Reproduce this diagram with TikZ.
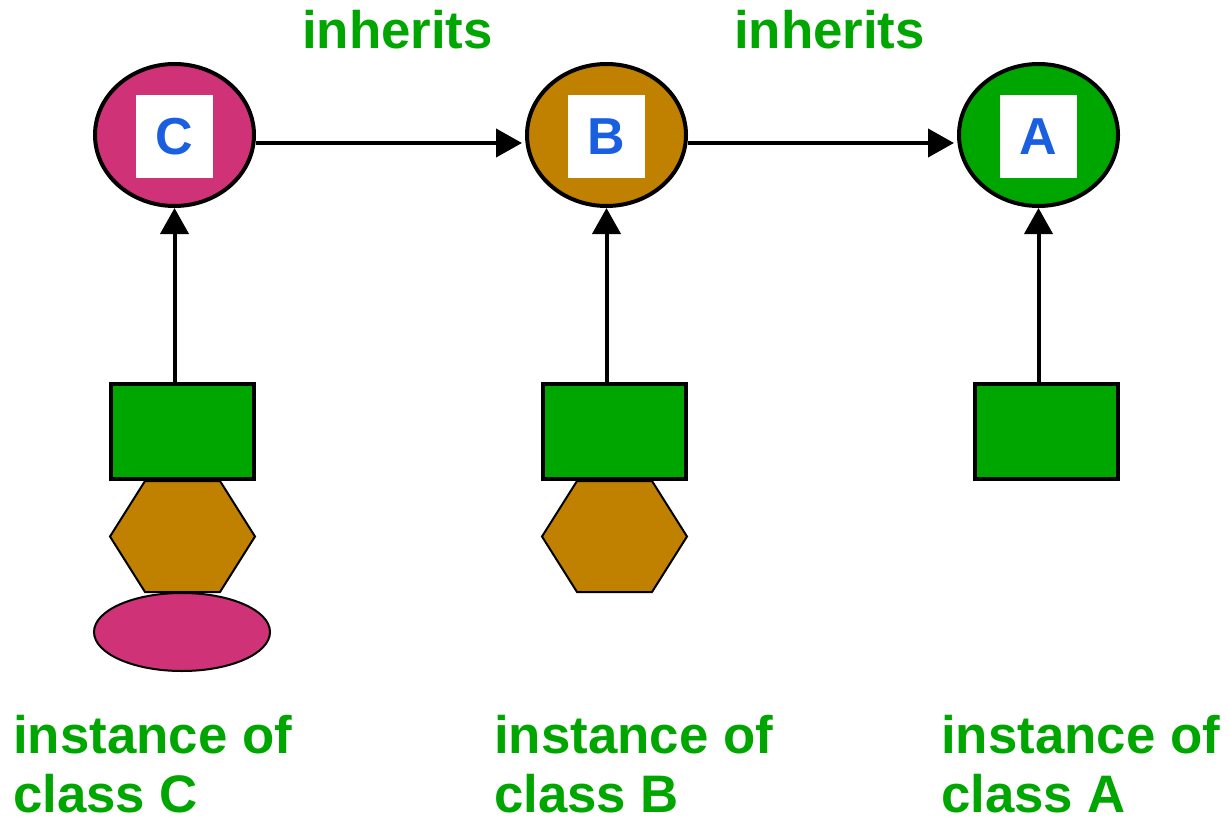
\documentclass[tikz,border=0pt]{standalone}
\usepackage{fontspec}
\setmainfont{Liberation Sans}
\usetikzlibrary{shapes.geometric,arrows.meta}
\definecolor{leafgreen}{RGB}{0,166,0}
\definecolor{rosepink}{RGB}{208,50,120}
\definecolor{ochre}{RGB}{192,128,0}
\definecolor{letterblue}{RGB}{26,95,224}
\tikzset{
  classnode/.style={ellipse,draw=black,line width=4pt,minimum width=159pt,minimum height=142pt,inner sep=0pt},
  letterbox/.style={fill=white,minimum width=77pt,minimum height=83pt,inner sep=0pt,
    text=letterblue,font=\bfseries\fontsize{52}{52}\selectfont},
  objbox/.style={rectangle,draw=black,fill=leafgreen,line width=4pt,minimum width=143pt,minimum height=95pt,inner sep=0pt},
  objoval/.style={ellipse,draw=black,fill=rosepink,line width=2pt,minimum width=176pt,minimum height=78pt,inner sep=0pt},
  arr/.style={line width=4pt,-{Triangle[length=26pt,width=28pt]}},
  greentext/.style={text=leafgreen,font=\bfseries\fontsize{52.8}{59}\selectfont,inner sep=0pt},
  hexa/.pic={\draw[draw=black,fill=ochre,line width=2pt]
    (-37.5,-55.5) -- (37.5,-55.5) -- (72.5,0) -- (37.5,55.5) -- (-37.5,55.5) -- (-72.5,0) -- cycle;}
}
\begin{document}
\begin{tikzpicture}[x=1pt,y=-1pt]
\useasboundingbox (0,0) rectangle (1230,821);

% class circles with their letters
\node[classnode,fill=rosepink] (C) at (174.5,135) {};
\node[classnode,fill=ochre] (B) at (606.5,135) {};
\node[classnode,fill=leafgreen] (A) at (1038.5,135) {};
\node[letterbox] (lC) at (174.5,136.5) {C};
\node[letterbox] (lB) at (606.5,136.5) {B};
\node[letterbox] (lA) at (1038.5,136.5) {A};

% inheritance arrows, run a little below the centre line
\draw[arr,shorten >=3pt] ([yshift=-8pt]C.east) -- ([yshift=-8pt]B.west);
\draw[arr,shorten >=3pt] ([yshift=-8pt]B.east) -- ([yshift=-8pt]A.west);
\node[greentext,anchor=base west] (inh1) at (302,49) {inherits};
\node[greentext,anchor=base west] (inh2) at (734,49) {inherits};

% instances
\node[objbox] (rC) at (182,431.5) {};
\node[objbox] (rB) at (614.5,431.5) {};
\node[objbox] (rA) at (1046,431.5) {};
\pic at (182.5,536.5) {hexa};
\pic at (614.5,536.5) {hexa};
\node[objoval] (eC) at (182,632) {};

\draw[arr] (rC.north -| C.south) -- (C.south);
\draw[arr] (rB.north -| B.south) -- (B.south);
\draw[arr] (rA.north -| A.south) -- (A.south);

% captions
\node[greentext,anchor=base west] (tC1) at (13,753) {instance of};
\node[greentext,anchor=base west] (tC2) at (13,812) {class C};
\node[greentext,anchor=base west] (tB1) at (494,753) {instance of};
\node[greentext,anchor=base west] (tB2) at (494,812) {class B};
\node[greentext,anchor=base west] (tA1) at (941,753) {instance of};
\node[greentext,anchor=base west] (tA2) at (941,812) {class A};
\end{tikzpicture}
\end{document}
